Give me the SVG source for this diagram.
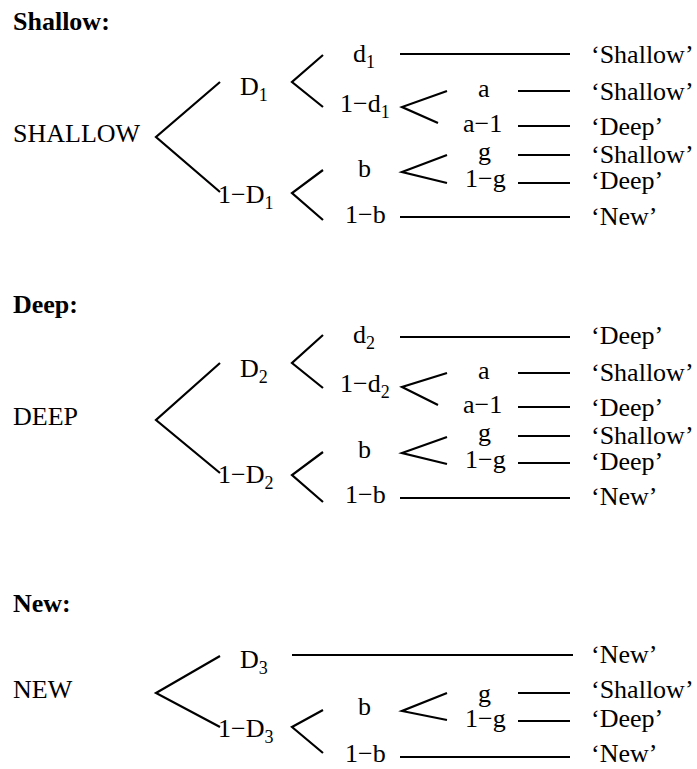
<svg xmlns="http://www.w3.org/2000/svg" width="697" height="769" viewBox="0 0 697 769">
<style>
text{font-family:"Liberation Serif","Times New Roman",serif;font-size:26px;fill:#000}
.h{font-weight:bold}
.sub{font-size:18px}
.c path,.c line{stroke:#000;stroke-width:2.2;fill:none}
</style>
<rect width="697" height="769" fill="#fff"/>
<g class="c" id="connectors">
<!-- section 1 -->
<path d="M220,82 L156,137 L220,192"/>
<path d="M323,55 L292,82 L323,107"/>
<path d="M323,170 L292,193 L323,220"/>
<line x1="400" y1="54" x2="570" y2="54"/>
<path d="M447,91 L402,107 L438,123"/>
<line x1="518" y1="91" x2="570" y2="91"/>
<line x1="518" y1="126" x2="570" y2="126"/>
<path d="M447,155 L402,172 L447,183"/>
<line x1="518" y1="155" x2="570" y2="155"/>
<line x1="518" y1="183" x2="570" y2="183"/>
<line x1="400" y1="217" x2="570" y2="217"/>
<!-- section 2 -->
<path d="M220,363 L156,420 L220,473"/>
<path d="M323,335 L292,363 L323,388"/>
<path d="M323,452 L292,475 L323,502"/>
<line x1="400" y1="337" x2="570" y2="337"/>
<path d="M447,373 L402,387 L438,405"/>
<line x1="518" y1="373" x2="570" y2="373"/>
<line x1="518" y1="407" x2="570" y2="407"/>
<path d="M447,437 L402,453 L447,464"/>
<line x1="518" y1="436" x2="570" y2="436"/>
<line x1="518" y1="463" x2="570" y2="463"/>
<line x1="400" y1="498" x2="570" y2="498"/>
<!-- section 3 -->
<path d="M220,656 L156,693 L220,727"/>
<line x1="292" y1="655" x2="573" y2="655"/>
<path d="M323,710 L292,727 L323,753"/>
<path d="M447,693 L402,711 L447,720"/>
<line x1="518" y1="693" x2="570" y2="693"/>
<line x1="518" y1="721" x2="570" y2="721"/>
<line x1="400" y1="757" x2="570" y2="757"/>
</g>
<g id="shallow-section">
<g id="title-shallow"><text class="h" x="13" y="30">Shallow:</text></g>
<g id="root-shallow"><text x="13" y="142">SHALLOW</text></g>
<g id="s-D1"><text x="240" y="95">D<tspan class="sub" dy="6">1</tspan></text></g>
<g id="s-1-D1"><text x="218" y="203">1−D<tspan class="sub" dy="6">1</tspan></text></g>
<g id="s-d1"><text x="353" y="62">d<tspan class="sub" dy="6">1</tspan></text></g>
<g id="s-1-d1"><text x="340" y="112">1−d<tspan class="sub" dy="6">1</tspan></text></g>
<g id="s-a"><text x="478" y="97">a</text></g>
<g id="s-a-1"><text x="463" y="132">a−1</text></g>
<g id="s-b"><text x="358" y="177">b</text></g>
<g id="s-g"><text x="478" y="160">g</text></g>
<g id="s-1-g"><text x="465" y="187">1−g</text></g>
<g id="s-1-b"><text x="345" y="223">1−b</text></g>
<g id="s-o1"><text x="591" y="63">‘Shallow’</text></g>
<g id="s-o2"><text x="591" y="100">‘Shallow’</text></g>
<g id="s-o3"><text x="591" y="135">‘Deep’</text></g>
<g id="s-o4"><text x="591" y="163">‘Shallow’</text></g>
<g id="s-o5"><text x="591" y="189">‘Deep’</text></g>
<g id="s-o6"><text x="591" y="225">‘New’</text></g>
</g>
<g id="deep-section">
<g id="title-deep"><text class="h" x="13" y="313">Deep:</text></g>
<g id="root-deep"><text x="13" y="425">DEEP</text></g>
<g id="d-D2"><text x="240" y="377">D<tspan class="sub" dy="6">2</tspan></text></g>
<g id="d-1-D2"><text x="218" y="483">1−D<tspan class="sub" dy="6">2</tspan></text></g>
<g id="d-d2"><text x="353" y="343">d<tspan class="sub" dy="6">2</tspan></text></g>
<g id="d-1-d2"><text x="340" y="392">1−d<tspan class="sub" dy="6">2</tspan></text></g>
<g id="d-a"><text x="478" y="379">a</text></g>
<g id="d-a-1"><text x="463" y="413">a−1</text></g>
<g id="d-b"><text x="358" y="458">b</text></g>
<g id="d-g"><text x="478" y="441">g</text></g>
<g id="d-1-g"><text x="465" y="468">1−g</text></g>
<g id="d-1-b"><text x="345" y="503">1−b</text></g>
<g id="d-o1"><text x="591" y="344">‘Deep’</text></g>
<g id="d-o2"><text x="591" y="381">‘Shallow’</text></g>
<g id="d-o3"><text x="591" y="416">‘Deep’</text></g>
<g id="d-o4"><text x="591" y="444">‘Shallow’</text></g>
<g id="d-o5"><text x="591" y="470">‘Deep’</text></g>
<g id="d-o6"><text x="591" y="505">‘New’</text></g>
</g>
<g id="new-section">
<g id="title-new"><text class="h" x="13" y="612">New:</text></g>
<g id="root-new"><text x="13" y="698">NEW</text></g>
<g id="n-D3"><text x="240" y="668">D<tspan class="sub" dy="6">3</tspan></text></g>
<g id="n-1-D3"><text x="218" y="737">1−D<tspan class="sub" dy="6">3</tspan></text></g>
<g id="n-b"><text x="358" y="715">b</text></g>
<g id="n-g"><text x="478" y="702">g</text></g>
<g id="n-1-g"><text x="465" y="727">1−g</text></g>
<g id="n-1-b"><text x="345" y="762">1−b</text></g>
<g id="n-o1"><text x="591" y="663">‘New’</text></g>
<g id="n-o2"><text x="591" y="698">‘Shallow’</text></g>
<g id="n-o3"><text x="591" y="727">‘Deep’</text></g>
<g id="n-o4"><text x="591" y="762">‘New’</text></g>
</g>
</svg>
